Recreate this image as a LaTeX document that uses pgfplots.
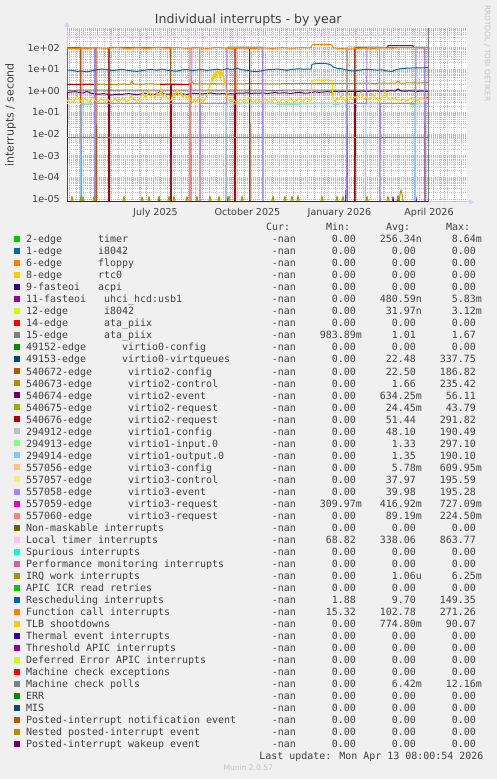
\documentclass[border=0pt]{standalone}
\usepackage{pgfplots}
\pgfplotsset{compat=1.18}
\usepackage{fontspec}
\setmainfont{DejaVu Sans}
\newfontfamily\lfont{DejaVu Sans Mono}
\usetikzlibrary{arrows.meta}
\definecolor{bg}{HTML}{F0F0F0}
\definecolor{axcol}{HTML}{CFD6F8}
\definecolor{txt}{HTML}{404040}
\definecolor{wm}{HTML}{C4C4C4}
\definecolor{mgridcol}{HTML}{F2A0A0}
\definecolor{gridcol}{HTML}{BDBDBD}
\definecolor{C0}{HTML}{00CC00}
\definecolor{C1}{HTML}{0066B3}
\definecolor{C2}{HTML}{FF8000}
\definecolor{C3}{HTML}{FFCC00}
\definecolor{C4}{HTML}{330099}
\definecolor{C5}{HTML}{990099}
\definecolor{C6}{HTML}{CCFF00}
\definecolor{C7}{HTML}{FF0000}
\definecolor{C8}{HTML}{808080}
\definecolor{C9}{HTML}{008F00}
\definecolor{C10}{HTML}{00487D}
\definecolor{C11}{HTML}{B35A00}
\definecolor{C12}{HTML}{B38F00}
\definecolor{C13}{HTML}{6B006B}
\definecolor{C14}{HTML}{8FB300}
\definecolor{C15}{HTML}{B30000}
\definecolor{C16}{HTML}{BEBEBE}
\definecolor{C17}{HTML}{80FF80}
\definecolor{C18}{HTML}{80C9FF}
\definecolor{C19}{HTML}{FFC080}
\definecolor{C20}{HTML}{FFE680}
\definecolor{C21}{HTML}{AA80FF}
\definecolor{C22}{HTML}{EE00CC}
\definecolor{C23}{HTML}{FF8080}
\definecolor{C24}{HTML}{666600}
\definecolor{C25}{HTML}{FFBFFF}
\definecolor{C26}{HTML}{00FFCC}
\definecolor{C27}{HTML}{CC6699}
\definecolor{C28}{HTML}{999900}
\newcommand{\sfx}{\hphantom{0}}
\newcommand{\Z}{0.00\sfx}
\tikzset{lt/.style={anchor=base west,inner sep=0pt,text=txt,font=\lfont\fontsize{10}{12}\selectfont},
         rt/.style={anchor=base east,inner sep=0pt,text=txt,font=\lfont\fontsize{10}{12}\selectfont}}
\newcommand{\lrow}[8]{%
  \pgfmathsetmacro{\cy}{779-(239.3+12.01*(#1-1))}%
  \pgfmathsetmacro{\by}{\cy-3.6}%
  \fill[#2] (14,\cy-3) rectangle (20,\cy+3);
  \node[lt] at (26,\by) {#3};
  \node[lt] at ({26+6*#4},\by) {#5};
  \node[rt] at (302,\by) {-nan\sfx};
  \node[rt] at (362,\by) {#6};
  \node[rt] at (422,\by) {#7};
  \node[rt] at (482,\by) {#8};
}
\begin{document}
\begin{tikzpicture}[x=1bp,y=1bp]
\useasboundingbox (0,0) rectangle (497,779);
\fill[bg] (0,0) rectangle (497,779);
\fill[white] (67,577) rectangle (467,751);
\draw[axcol,line width=1bp,-{Triangle[length=5bp,width=5bp]}] (66.5,577) -- (474,577);
\draw[axcol,line width=1bp,-{Triangle[length=5bp,width=5bp]}] (67,576.5) -- (67,757);
\begin{axis}[
  at={(67bp,577bp)}, anchor=south west,
  scale only axis, width=400bp, height=174bp,
  xmin=-257, xmax=143, ymode=log, ymin=7.2e-6, ymax=817,
  axis line style={draw=none},
  major tick length=0pt, minor tick length=0pt,
  xtick={-168.5,-76.5,15.5,105},
  xticklabels={July 2025,October 2025,January 2026,April 2026},
  extra x ticks={-245,-214,-184,-153,-122,-92,-61,-31,0,31,59,90,120},
  extra x tick labels={},
  extra x tick style={grid=major},
  minor xtick={-255,-248,...,137},
  xminorgrids=true,
  ytick={1e-5,1e-4,1e-3,1e-2,1e-1,1,10,100},
  yticklabels={1e-05,1e-04,1e-03,1e-02,1e-01,1e+00,1e+01,1e+02},
  minor ytick={8e-6,9e-6,2e-5,3e-5,4e-5,5e-5,6e-5,7e-5,8e-5,9e-5,2e-4,3e-4,4e-4,5e-4,6e-4,7e-4,8e-4,9e-4,2e-3,3e-3,4e-3,5e-3,6e-3,7e-3,8e-3,9e-3,0.02,0.03,0.04,0.05,0.06,0.07,0.08,0.09,0.2,0.3,0.4,0.5,0.6,0.7,0.8,0.9,2,3,4,5,6,7,8,9,20,30,40,50,60,70,80,90,200,300,400,500,600,700,800},
  ymajorgrids=true, yminorgrids=true,
  major grid style={mgridcol,line width=0.8bp,dash pattern=on 1bp off 1bp},
  minor grid style={gridcol,line width=0.8bp,dash pattern=on 1bp off 1bp},
  ticklabel style={text=txt,font=\fontsize{9.6}{11}\selectfont},
  yticklabel style={anchor=east,inner sep=0pt,xshift=-7bp},
  xticklabel style={anchor=base,inner sep=0pt,yshift=-13.8bp},
  unbounded coords=jump,
  every axis plot/.append style={line width=1bp,line join=round,mark=none},
]
% 11-fasteoi uhci_hcd:usb1
\addplot[C5] coordinates {(-257,1.25e-5)(-256.4,7.2e-6)(-256,nan)
(-229.6,7.2e-6)(-229,1.25e-5)(-228.4,7.2e-6)(-228,nan)
(-165.6,7.2e-6)(-165,1.25e-5)(-164.4,7.2e-6)(-164,nan)
(-153.6,7.2e-6)(-153,1.25e-5)(-152.4,7.2e-6)(-152,nan)
(-124.6,7.2e-6)(-124,2.6e-5)(-123.4,7.2e-6)(-123,nan)
(-97.6,7.2e-6)(-97,1.25e-5)(-96.4,7.2e-6)(-96,nan)
(21.4,7.2e-6)(22,2.6e-5)(22.6,7.2e-6)(23,nan)
(55.4,7.2e-6)(56,1.25e-5)(56.6,7.2e-6)(57,nan)
(68.4,7.2e-6)(69,1.25e-5)(69.6,7.2e-6)(70,nan)
(73.4,7.2e-6)(74,1.3e-5)(74.6,7.2e-6)(75,nan)
(91.4,7.2e-6)(92,1.25e-5)(92.6,7.2e-6)};
% 15-edge ata_piix
\addplot[C8] coordinates {(-257,1.07)(-150,1.08)(-50,1.07)(50,1.08)(104,1.08)};
% 540672-edge virtio2-config
\addplot[C11] coordinates {(-257,7.2e-6)(-256.5,103)(-243.5,103)(-243,7.2e-6)(-228.5,7.2e-6)(-228,103)(-227.5,7.2e-6)(-215.5,7.2e-6)(-215,103)(-153.5,103)(-153,7.2e-6)(-88.5,7.2e-6)(-88,103)(-74.5,103)(-74,7.2e-6)(22.5,7.2e-6)(23,103)(23.5,7.2e-6)(30.5,7.2e-6)(31,103)(100.5,103)(101,7.2e-6)(104,7.2e-6)};
% 540673-edge virtio2-control
\addplot[C12] coordinates {(-257,2.0)(-240,2.0)(-225,2.05)(-210,2.0)(-200,2.1)(-194,2.0)(-192,2.7)(-190,2.05)(-175,2.1)(-160,2.05)(-150,2.1)(-140,2.0)(-134,2.05)(-132,2.7)(-130,2.1)(-110,2.15)(-100,2.1)(-85,2.1)(-70,2.2)(-55,2.1)(-40,2.15)(-25,2.2)(-10,2.2)(5,2.25)(20,2.2)(35,2.3)(50,2.25)(72,2.3)(74,2.8)(76,2.3)(90,2.35)(104,2.4)};
% 540674-edge virtio2-event
\addplot[C13] coordinates {(-257,7.2e-6)(-256.3,0.85)(-253,0.88)(-249,0.92)(-245,0.85)(-241,0.80)(-237,0.95)(-233,0.78)(-229,0.72)(-225,0.70)(-221,0.74)(-217,0.70)(-215.6,0.72)(-215,7.2e-6)(-214.4,0.65)(-211,0.66)(-207,0.70)(-203,0.68)(-199,0.72)(-195,0.75)(-191,0.70)(-187,0.66)(-183,0.72)(-179,0.78)(-175,0.70)(-171,0.68)(-167,0.72)(-163,1.05)(-161,0.74)(-157,0.70)(-153.6,0.72)(-153,7.2e-6)(-152.4,0.68)(-149,0.70)(-145,0.74)(-141,0.72)(-137,0.68)(-133,0.75)(-129,0.78)(-125,0.74)(-121,0.72)(-117,0.76)(-113,0.80)(-109,0.74)(-105,0.72)(-101,0.76)(-97,0.70)(-93,0.74)(-89.6,0.72)(-89,7.2e-6)(-88.4,0.76)(-85,0.80)(-81,0.78)(-77,0.82)(-73,0.76)(-69,0.80)(-65,0.78)(-61,0.82)(-57,0.76)(-53,0.80)(-49,0.84)(-45,0.78)(-41,0.82)(-37,0.80)(-33,0.76)(-29,0.82)(-25,0.86)(-21,0.80)(-17,0.78)(-13,0.84)(-9,0.90)(-5,0.86)(-1,0.88)(3,0.92)(7,0.88)(11,0.94)(15,0.90)(19,0.95)(23,0.92)(27,0.96)(30.4,0.94)(31,7.2e-6)(31.6,0.92)(35,0.95)(39,0.98)(43,0.94)(47,0.97)(51,1.0)(55,0.95)(59,0.98)(63,0.96)(67,1.02)(71,0.97)(74,1.25)(77,0.98)(81,0.96)(85,1.0)(89,0.97)(93,0.95)(97,0.98)(101,0.96)(104,0.95)};
% 540676-edge virtio2-request
\addplot[C15] coordinates {(-257,2.0)(-245,2.0)(-235,2.05)(-229.5,2.0)(-229,7.2e-6)(-215.5,7.2e-6)(-215,100)(-214.5,7.2e-6)(-164.5,7.2e-6)(-164,nan)(-164,2.0)(-153.5,2.05)(-153,7.2e-6)(-152.5,2.0)(-133.5,2.0)(-133,7.2e-6)(-89.5,7.2e-6)(-89,100)(-74.5,100)(-74,7.2e-6)(30.5,7.2e-6)(31,100)(63.5,100)(64,125)(89,125)(89.5,100)(100.5,100)(101,7.2e-6)(104,7.2e-6)};
% 294912-edge virtio1-config
\addplot[C16] coordinates {(-257,7.2e-6)(-97.5,7.2e-6)(-97,108)(-61.5,108)(-61,7.2e-6)(22.5,7.2e-6)(23,108)(55.5,108)(56,7.2e-6)(91.5,7.2e-6)(92,108)(104,108)};
% 294913-edge virtio1-input.0
\addplot[C17] coordinates {(-242,0.235)(-231,0.235)(-230,nan)(-47,0.23)(-24,0.23)(-23,nan)(9,0.23)(16,0.23)(17,nan)(86,0.23)(91,0.23)};
% 294914-edge virtio1-output.0
\addplot[C18] coordinates {(-257,7.2e-6)(-243.5,7.2e-6)(-243,0.25)(-229.5,0.25)(-229,7.2e-6)(-98.5,7.2e-6)(-98,0.25)(-61.5,0.25)(-61,7.2e-6)(-60.5,0.25)(22,0.25)(22.5,7.2e-6)(41.5,7.2e-6)(42,0.25)(55.5,0.25)(56,7.2e-6)(90.5,7.2e-6)(91,0.25)(104,0.25)};
% 557056-edge virtio3-config
\addplot[C19] coordinates {(-124.7,7.2e-6)(-124,100)(-123.3,7.2e-6)};
% 557057-edge virtio3-control
\addplot[C20] coordinates {(-257,0.25)(-243,0.25)};
% 557058-edge virtio3-event
\addplot[C21] coordinates {(-257,7.2e-6)(-242.5,7.2e-6)(-242,100)(-229.5,100)(-229,7.2e-6)(-228.5,0.26)(-132.5,0.26)(-132,100)(-124.5,100)(-124,7.2e-6)(-123.5,0.26)(-97.5,0.26)(-97,100)(-61.5,100)(-61,7.2e-6)(22.5,7.2e-6)(23,0.26)(42.5,0.26)(43,100)(55.5,100)(56,7.2e-6)(56.5,0.26)(91.5,0.26)(92,100)(100.5,100)(101,7.2e-6)(101.5,0.26)(104,0.26)};
% 557059-edge virtio3-request
\addplot[C22] coordinates {(100.5,0.42)(102,0.46)(104,0.5)};
% 557060-edge virtio3-request
\addplot[C23] coordinates {(-134.7,7.2e-6)(-134,100)(-133.3,7.2e-6)};
% Local timer interrupts
\addplot[C25] coordinates {(-257,345)(-240,348)(-220,350)(-200,347)(-180,345)(-160,348)(-140,350)(-120,347)(-100,345)(-80,348)(-60,350)(-40,348)(-20,350)(-13,350)(-12,400)(8,400)(9,360)(30,362)(50,358)(70,380)(90,385)(104,385)};
% IRQ work interrupts
\addplot[C28] coordinates {(-253.3,7.2e-6)(-252,1.3e-5)(-250.7,7.2e-6)(-250,nan)
(-244.3,7.2e-6)(-243,1.3e-5)(-241.7,7.2e-6)(-241,1.25e-5)(-239.7,7.2e-6)(-239,nan)
(-231.3,7.2e-6)(-230,1.3e-5)(-228.7,7.2e-6)(-228,nan)
(-201.3,7.2e-6)(-200,1.3e-5)(-198.7,7.2e-6)(-198,nan)
(-183.3,7.2e-6)(-182,1.25e-5)(-180.7,7.2e-6)(-180,nan)
(-176.3,7.2e-6)(-175,1.3e-5)(-173.7,7.2e-6)(-173,nan)
(-166.3,7.2e-6)(-165,1.3e-5)(-163.7,7.2e-6)(-163,nan)
(-156.3,7.2e-6)(-155,1.3e-5)(-153.7,7.2e-6)(-153,nan)
(-151.3,7.2e-6)(-150,1.3e-5)(-148.7,7.2e-6)(-148,nan)
(-138.3,7.2e-6)(-137,1.3e-5)(-135.7,7.2e-6)(-135,nan)
(-128.3,7.2e-6)(-127,1.3e-5)(-125.7,7.2e-6)(-125,nan)
(-115.3,7.2e-6)(-114,1.3e-5)(-112.7,7.2e-6)(-112,nan)
(-106.3,7.2e-6)(-105,1.3e-5)(-103.7,7.2e-6)(-103,nan)
(-96.3,7.2e-6)(-95,1.3e-5)(-93.7,7.2e-6)(-93,nan)
(-83.3,7.2e-6)(-82,1.3e-5)(-80.7,7.2e-6)(-80,nan)
(-52.3,7.2e-6)(-51,1.3e-5)(-49.7,7.2e-6)(-49,nan)
(-40.3,7.2e-6)(-39,1.3e-5)(-37.7,7.2e-6)(-37,nan)
(-33.3,7.2e-6)(-32,1.3e-5)(-30.7,7.2e-6)(-30,nan)
(-27.3,7.2e-6)(-26,1.4e-5)(-24.7,7.2e-6)(-24,nan)
(-3.3,7.2e-6)(-2,1.3e-5)(-0.7,7.2e-6)(0,nan)
(11.7,7.2e-6)(13,1.3e-5)(14.3,7.2e-6)(15,nan)
(17.7,7.2e-6)(19,1.3e-5)(20.3,7.2e-6)(21,nan)
(41.7,7.2e-6)(43,1.3e-5)(44.3,7.2e-6)(45,nan)
(62.7,7.2e-6)(64,1.3e-5)(65.3,7.2e-6)(66,nan)
(72.7,7.2e-6)(74,1.4e-5)(75.3,7.2e-6)(76,1.6e-5)(77,2.6e-5)(78,1.8e-5)(79.3,7.2e-6)};
% Rescheduling interrupts
\addplot[C1] coordinates {(-257,9.3)(-252,9.0)(-247,8.0)(-242,8.3)(-237,7.6)(-232,8.5)(-227,9.5)(-222,10.3)(-217,9.6)(-212,8.8)(-207,9.2)(-202,10.0)(-197,9.0)(-192,8.4)(-187,8.0)(-182,8.7)(-177,9.5)(-172,9.8)(-167,9.0)(-162,10.2)(-157,9.1)(-152,8.6)(-147,8.2)(-142,9.3)(-137,9.8)(-132,8.6)(-127,9.3)(-122,9.7)(-117,8.9)(-112,9.4)(-107,10.1)(-102,9.3)(-97,10.6)(-92,9.8)(-87,11.0)(-82,9.5)(-77,8.9)(-72,8.2)(-67,7.8)(-62,8.6)(-57,9.5)(-52,9.8)(-47,10.2)(-42,9.6)(-37,9.0)(-32,10.0)(-27,10.4)(-22,10.3)(-17,10.1)(-13,10.2)(-12,17)(-9,18)(-4,19)(1,18.5)(6,17)(9,13)(13,11)(18,10.5)(23,9.3)(28,8.4)(33,8.8)(38,9.5)(43,10.0)(48,9.6)(53,9.2)(58,9.4)(63,8.3)(68,8.0)(73,9.8)(78,11.0)(83,11.2)(88,11.5)(93,11.8)(98,11.6)(103,12.0)(104,11.8)};
% Function call interrupts
\addplot[C2] coordinates {(-257,95)(-252,92)(-247,90)(-242,88)(-237,93)(-232,97)(-227,100)(-222,96)(-217,94)(-212,98)(-207,101)(-202,97)(-197,92)(-192,95)(-187,99)(-182,96)(-177,93)(-172,97)(-167,102)(-162,98)(-157,95)(-152,99)(-147,103)(-142,98)(-137,94)(-132,97)(-127,101)(-122,96)(-117,93)(-112,98)(-107,104)(-102,99)(-97,95)(-92,92)(-87,96)(-82,99)(-77,95)(-72,91)(-67,94)(-62,98)(-57,96)(-52,93)(-47,97)(-42,100)(-37,97)(-32,94)(-27,98)(-22,101)(-17,98)(-13,100)(-12,135)(-8,140)(-4,145)(0,138)(4,142)(8,135)(9,100)(14,94)(19,90)(24,86)(29,88)(34,92)(39,97)(44,96)(49,93)(54,97)(59,101)(64,98)(69,96)(74,100)(79,103)(84,99)(89,102)(94,100)(99,97)(104,104)};
% TLB shootdowns
\addplot[C3] coordinates {(-257,0.32)(-255,0.45)(-253,0.38)(-251,0.30)(-249,0.42)(-247,0.55)(-245,0.40)(-243,0.33)(-241,0.36)(-239,0.48)(-237,0.35)(-235,0.30)(-233,0.40)(-231,0.52)(-229,0.37)(-227,0.31)(-225,0.34)(-223,0.45)(-221,0.38)(-219,0.30)(-217,0.42)(-215,0.36)(-213,0.30)(-211,0.33)(-209,0.47)(-207,0.35)(-205,0.31)(-203,0.40)(-201,0.52)(-199,0.38)(-197,0.33)(-195,0.36)(-193,0.60)(-191,0.45)(-189,0.38)(-187,0.32)(-185,0.40)(-183,0.55)(-181,0.85)(-179,0.50)(-177,0.62)(-175,1.10)(-173,0.55)(-171,0.70)(-169,0.45)(-167,0.90)(-165,0.60)(-163,1.30)(-161,0.55)(-159,0.75)(-157,0.48)(-155,0.40)(-153,0.35)(-151,0.80)(-149,0.55)(-147,1.20)(-145,0.60)(-143,0.90)(-141,0.50)(-139,0.70)(-137,0.45)(-135,0.60)(-133,0.35)(-131,0.28)(-129,0.45)(-127,0.32)(-125,0.50)(-123,0.38)(-121,0.30)(-119,0.42)(-117,0.65)(-115,1.4)(-113,2.2)(-112,5.5)(-111,2.5)(-110,7.0)(-109,3.5)(-108,9.0)(-107,4.0)(-106,6.5)(-105,8.5)(-104,3.0)(-103,9.5)(-102,5.0)(-101,7.5)(-100,2.0)(-99,4.5)(-98,0.9)(-97,0.45)(-95,0.35)(-93,0.30)(-91,0.42)(-89,0.33)(-87,0.28)(-85,0.35)(-83,0.40)(-81,0.32)(-79,0.30)(-77,0.38)(-75,0.50)(-73,0.35)(-71,0.30)(-69,0.33)(-67,0.40)(-65,0.36)(-63,0.30)(-61,0.34)(-59,0.44)(-57,0.36)(-55,0.31)(-53,0.33)(-51,0.38)(-49,0.45)(-47,0.35)(-45,0.30)(-43,0.36)(-41,0.42)(-39,0.34)(-37,0.31)(-35,0.38)(-33,0.46)(-31,0.35)(-29,0.32)(-27,0.37)(-25,0.44)(-23,0.36)(-21,0.33)(-19,0.40)(-17,0.48)(-15,0.38)(-13,0.35)(-12,3.1)(-10,3.2)(-6,3.2)(-2,3.1)(2,3.2)(6,3.2)(8,3.1)(9,0.40)(11,0.33)(13,0.45)(15,0.38)(17,0.60)(19,0.42)(21,0.35)(23,0.50)(25,0.75)(27,0.45)(29,0.38)(31,0.55)(33,0.42)(35,0.65)(37,0.90)(39,0.50)(41,0.40)(43,0.55)(45,0.38)(47,0.45)(49,0.80)(51,0.50)(53,0.40)(55,0.36)(57,0.45)(59,0.60)(61,1.00)(63,0.55)(65,0.42)(67,0.38)(69,0.50)(71,0.44)(73,0.36)(75,0.40)(77,0.35)(79,0.42)(81,0.38)(83,0.34)(85,0.40)(87,0.46)(89,0.38)(91,0.42)(93,0.36)(95,0.40)(97,0.50)(99,0.45)(101,0.38)(103,0.70)(104,0.65)};
% Machine check polls
\addplot[C8] coordinates {(-257,0.0072)(104,0.0072)};
% Posted-interrupt wakeup event (zero)
\addplot[C13] coordinates {(-257,7.2e-6)(104,7.2e-6)};
\draw[C8,line width=1bp] (axis cs:104,7.2e-6) -- (axis cs:104,817);
\end{axis}
% texts
\node[anchor=base,text=txt,font=\fontsize{12.6}{14}\selectfont] at (248.3,755) {Individual interrupts - by year};
\node[rotate=90,text=txt,font=\fontsize{11}{13}\selectfont] at (10.7,664) {interrupts / second};
\node[rotate=-90,text=wm,font=\fontsize{7.5}{9}\selectfont] at (487.3,725.7) {RRDTOOL / TOBI OETIKER};
\node[lt] at (266,548.1) {Cur:};
\node[lt] at (326,548.1) {Min:};
\node[lt] at (386,548.1) {Avg:};
\node[lt] at (446,548.1) {Max:};
\lrow{1}{C0}{2-edge}{12}{timer}{\Z}{256.34n}{8.64m}
\lrow{2}{C1}{1-edge}{12}{i8042}{\Z}{\Z}{\Z}
\lrow{3}{C2}{6-edge}{12}{floppy}{\Z}{\Z}{\Z}
\lrow{4}{C3}{8-edge}{12}{rtc0}{\Z}{\Z}{\Z}
\lrow{5}{C4}{9-fasteoi}{12}{acpi}{\Z}{\Z}{\Z}
\lrow{6}{C5}{11-fasteoi}{13}{uhci\_hcd:usb1}{\Z}{480.59n}{5.83m}
\lrow{7}{C6}{12-edge}{13}{i8042}{\Z}{31.97n}{3.12m}
\lrow{8}{C7}{14-edge}{13}{ata\_piix}{\Z}{\Z}{\Z}
\lrow{9}{C8}{15-edge}{13}{ata\_piix}{983.89m}{1.01\sfx}{1.67\sfx}
\lrow{10}{C9}{49152-edge}{16}{virtio0-config}{\Z}{\Z}{\Z}
\lrow{11}{C10}{49153-edge}{16}{virtio0-virtqueues}{\Z}{22.48\sfx}{337.75\sfx}
\lrow{12}{C11}{540672-edge}{17}{virtio2-config}{\Z}{22.50\sfx}{186.82\sfx}
\lrow{13}{C12}{540673-edge}{17}{virtio2-control}{\Z}{1.66\sfx}{235.42\sfx}
\lrow{14}{C13}{540674-edge}{17}{virtio2-event}{\Z}{634.25m}{56.11\sfx}
\lrow{15}{C14}{540675-edge}{17}{virtio2-request}{\Z}{24.45m}{43.79\sfx}
\lrow{16}{C15}{540676-edge}{17}{virtio2-request}{\Z}{51.44\sfx}{291.82\sfx}
\lrow{17}{C16}{294912-edge}{17}{virtio1-config}{\Z}{48.10\sfx}{190.49\sfx}
\lrow{18}{C17}{294913-edge}{17}{virtio1-input.0}{\Z}{1.33\sfx}{297.10\sfx}
\lrow{19}{C18}{294914-edge}{17}{virtio1-output.0}{\Z}{1.35\sfx}{190.10\sfx}
\lrow{20}{C19}{557056-edge}{17}{virtio3-config}{\Z}{5.78m}{609.95m}
\lrow{21}{C20}{557057-edge}{17}{virtio3-control}{\Z}{37.97\sfx}{195.59\sfx}
\lrow{22}{C21}{557058-edge}{17}{virtio3-event}{\Z}{39.98\sfx}{195.28\sfx}
\lrow{23}{C22}{557059-edge}{17}{virtio3-request}{309.97m}{416.92m}{727.09m}
\lrow{24}{C23}{557060-edge}{17}{virtio3-request}{\Z}{89.19m}{224.50m}
\lrow{25}{C24}{Non-maskable interrupts}{0}{}{\Z}{\Z}{\Z}
\lrow{26}{C25}{Local timer interrupts}{0}{}{68.82\sfx}{338.06\sfx}{863.77\sfx}
\lrow{27}{C26}{Spurious interrupts}{0}{}{\Z}{\Z}{\Z}
\lrow{28}{C27}{Performance monitoring interrupts}{0}{}{\Z}{\Z}{\Z}
\lrow{29}{C28}{IRQ work interrupts}{0}{}{\Z}{1.06u}{6.25m}
\lrow{30}{C0}{APIC ICR read retries}{0}{}{\Z}{\Z}{\Z}
\lrow{31}{C1}{Rescheduling interrupts}{0}{}{1.88\sfx}{9.70\sfx}{149.35\sfx}
\lrow{32}{C2}{Function call interrupts}{0}{}{15.32\sfx}{102.78\sfx}{271.26\sfx}
\lrow{33}{C3}{TLB shootdowns}{0}{}{\Z}{774.80m}{90.07\sfx}
\lrow{34}{C4}{Thermal event interrupts}{0}{}{\Z}{\Z}{\Z}
\lrow{35}{C5}{Threshold APIC interrupts}{0}{}{\Z}{\Z}{\Z}
\lrow{36}{C6}{Deferred Error APIC interrupts}{0}{}{\Z}{\Z}{\Z}
\lrow{37}{C7}{Machine check exceptions}{0}{}{\Z}{\Z}{\Z}
\lrow{38}{C8}{Machine check polls}{0}{}{\Z}{6.42m}{12.16m}
\lrow{39}{C9}{ERR}{0}{}{\Z}{\Z}{\Z}
\lrow{40}{C10}{MIS}{0}{}{\Z}{\Z}{\Z}
\lrow{41}{C11}{Posted-interrupt notification event}{0}{}{\Z}{\Z}{\Z}
\lrow{42}{C12}{Nested posted-interrupt event}{0}{}{\Z}{\Z}{\Z}
\lrow{43}{C13}{Posted-interrupt wakeup event}{0}{}{\Z}{\Z}{\Z}
\node[anchor=base east,inner sep=0pt,text=txt,font=\lfont\fontsize{10}{12}\selectfont] at (483.5,19.4) {Last update: Mon Apr 13 08:00:54 2026};
\node[text=wm,font=\fontsize{7.6}{9}\selectfont] at (248.3,11) {Munin 2.0.57};
\end{tikzpicture}
\end{document}
